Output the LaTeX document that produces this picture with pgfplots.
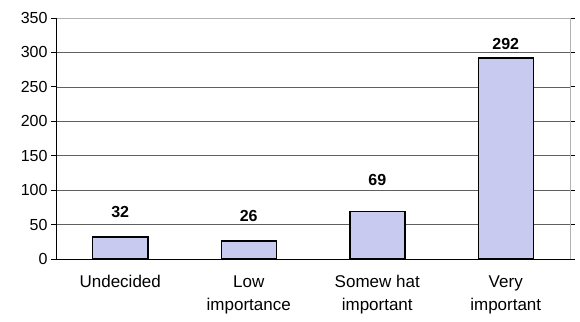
\documentclass[border=0pt]{standalone}
\usepackage{pgfplots}
\pgfplotsset{compat=1.18}
\usepackage{fontspec}
\setmainfont{Liberation Sans}
\definecolor{barfill}{HTML}{C9CAF0}
\pgfplotstableread{
x y shift
0 32 15
1 26 15
2 69 22
3 292 4
}\datatable
\begin{document}
\begin{tikzpicture}
\begin{axis}[
  scale only axis,
  width=514pt, height=241pt,
  at={(0pt,0pt)}, anchor=south west,
  xmin=-0.5, xmax=3.5,
  ymin=0, ymax=350,
  ytick={0,50,...,350},
  xtick={0,1,2,3},
  xticklabels={Undecided,{Low\\importance},{Somew hat\\important},{Very\\important}},
  xticklabel style={align=center, font=\fontsize{17}{23}\selectfont, yshift=-8pt},
  yticklabel style={font=\fontsize{16}{18}\selectfont},
  /pgf/number format/assume math mode=true,
  major x tick style={draw=none},
  extra x ticks={-0.5,0.5,1.5,2.5,3.5},
  extra x tick labels={},
  extra x tick style={tick style={black, thick}, major tick length=5pt, tick align=outside, grid=none},
  ymajorgrids,
  grid style={gray!75!black, line width=0.7pt},
  axis line style={draw=none},
  tick align=outside,
  ytick style={black, thick},
  major tick length=5pt,
  ybar, bar width=55pt,
  clip=false,
]
\draw[gray!60, line width=0.8pt] (axis cs:-0.5,350) -- (axis cs:3.5,350) -- (axis cs:3.5,0);
\draw[black, thick] (axis cs:-0.5,0) -- (axis cs:-0.5,350);
\draw[black, thick] (axis cs:-0.5,0) -- (axis cs:3.5,0);
\addplot[draw=black, line width=1.5pt, fill=barfill,
  nodes near coords,
  visualization depends on={\thisrow{shift} \as \myshift},
  every node near coord/.append style={font=\fontsize{16}{18}\bfseries\selectfont, yshift=\myshift pt},
] table[x=x, y=y] {\datatable};
\end{axis}
\pgfresetboundingbox
\path[use as bounding box] (-56pt,-62pt) rectangle (524pt,259pt);
\end{tikzpicture}
\end{document}
